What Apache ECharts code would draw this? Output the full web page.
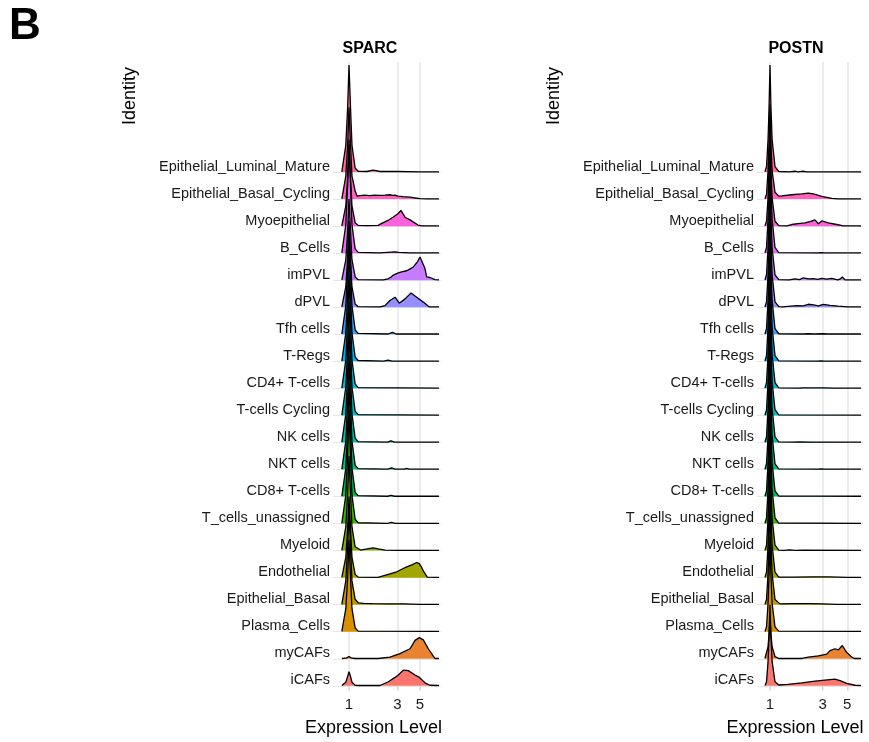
<!DOCTYPE html>
<html>
<head>
<meta charset="utf-8">
<script src="https://cdn.jsdelivr.net/npm/echarts@6/dist/echarts.min.js"></script>
<style>
  html, body { margin: 0; padding: 0; background: #fff; }
  #chart { width: 869px; height: 742px; }
</style>
</head>
<body>
<div id="chart"></div>
<script>
// rows, top to bottom
const identities = ['Epithelial_Luminal_Mature', 'Epithelial_Basal_Cycling', 'Myoepithelial', 'B_Cells',
  'imPVL', 'dPVL', 'Tfh cells', 'T-Regs', 'CD4+ T-cells', 'T-cells Cycling', 'NK cells', 'NKT cells',
  'CD8+ T-cells', 'T_cells_unassigned', 'Myeloid', 'Endothelial', 'Epithelial_Basal', 'Plasma_Cells',
  'myCAFs', 'iCAFs'];

const fillColors = ['#FF6C91', '#FF62BC', '#FA62DB', '#E76BF3', '#C77CFF', '#9590FF', '#35A2FF', '#00B0F6',
  '#00BAE0', '#00BFC4', '#00C1A3', '#00BF7D', '#00BB4E', '#39B600', '#7CAE00', '#A3A500', '#C09B00',
  '#D89000', '#EA8331', '#F8766D'];

const xTicks = [1, 3, 5];

// ridge heights ([expression, height in rows]) for SPARC
const sparcRidges = [
  [[0.85,0.01],[0.87,0.05],[0.93,0.99],[0.97,2.4],[1,3.96],[1.035,2.4],[1.07,0.99],[1.15,0.15],[1.23,0.03],[1.5,0.02],[1.72,0.07],[1.85,0.05],[2.02,0.02],[3,0.02],[5,0.01],[7.7,0.01]],
  [[0.85,0.01],[0.87,0.04],[0.93,0.85],[0.97,2.0],[1,3.4],[1.035,2.0],[1.07,0.85],[1.15,0.3],[1.2,0.11],[1.28,0.13],[1.44,0.15],[1.6,0.13],[1.8,0.15],[2,0.14],[2.26,0.15],[2.53,0.16],[2.7,0.14],[2.84,0.15],[3.03,0.11],[3.4,0.09],[4,0.07],[4.5,0.04],[5,0.02],[6,0.01],[7.7,0.01]],
  [[0.85,0.01],[0.87,0.04],[0.93,0.75],[0.97,1.8],[1,3.0],[1.035,1.8],[1.07,0.75],[1.15,0.12],[1.23,0.03],[1.5,0.02],[1.93,0.03],[2.1,0.1],[2.42,0.21],[2.71,0.33],[3.03,0.46],[3.25,0.58],[3.56,0.33],[3.99,0.23],[4.47,0.11],[4.78,0.04],[5.2,0.01],[7.7,0.01]],
  [[0.85,0.01],[0.87,0.05],[0.93,1.05],[0.97,2.5],[1,4.2],[1.035,2.5],[1.07,1.05],[1.15,0.16],[1.23,0.03],[2,0.01],[2.6,0.04],[2.84,0.05],[3.1,0.03],[4,0.01],[7.7,0.01]],
  [[0.85,0.01],[0.87,0.04],[0.93,0.75],[0.97,1.8],[1,3.0],[1.035,1.8],[1.07,0.75],[1.15,0.12],[1.23,0.02],[2.18,0.01],[2.42,0.05],[2.6,0.12],[2.73,0.19],[2.84,0.25],[3.06,0.27],[3.3,0.31],[3.7,0.35],[4.0,0.42],[4.3,0.49],[4.71,0.68],[5.0,0.86],[5.23,0.9],[5.6,0.43],[5.82,0.12],[6.27,0.1],[6.52,0.06],[7.03,0.02],[7.7,0.01]],
  [[0.85,0.01],[0.87,0.04],[0.93,0.75],[0.97,1.8],[1,3.0],[1.035,1.8],[1.07,0.75],[1.15,0.12],[1.23,0.02],[2.02,0.01],[2.26,0.06],[2.53,0.25],[2.84,0.37],[3.13,0.15],[3.56,0.31],[4.08,0.53],[4.64,0.37],[5.39,0.19],[6.18,0.01],[7.7,0.01]],
  [[0.85,0.01],[0.87,0.05],[0.93,1.05],[0.97,2.5],[1,4.2],[1.035,2.5],[1.07,1.05],[1.15,0.16],[1.23,0.03],[2.4,0.01],[2.69,0.07],[2.9,0.01],[7.7,0.01]],
  [[0.85,0.01],[0.87,0.05],[0.93,1.05],[0.97,2.5],[1,4.2],[1.035,2.5],[1.07,1.05],[1.15,0.16],[1.23,0.03],[2.2,0.01],[2.42,0.04],[2.65,0.01],[7.7,0.01]],
  [[0.85,0.01],[0.87,0.05],[0.93,1.05],[0.97,2.5],[1,4.2],[1.035,2.5],[1.07,1.05],[1.15,0.16],[1.23,0.03],[7.7,0.01]],
  [[0.85,0.01],[0.87,0.05],[0.93,1.05],[0.97,2.5],[1,4.2],[1.035,2.5],[1.07,1.05],[1.15,0.16],[1.23,0.03],[7.7,0.01]],
  [[0.85,0.01],[0.87,0.05],[0.93,1.05],[0.97,2.5],[1,4.2],[1.035,2.5],[1.07,1.05],[1.15,0.16],[1.23,0.03],[2.4,0.01],[2.59,0.06],[2.8,0.01],[7.7,0.01]],
  [[0.85,0.01],[0.87,0.05],[0.93,1.05],[0.97,2.5],[1,4.2],[1.035,2.5],[1.07,1.05],[1.15,0.16],[1.23,0.03],[2.4,0.01],[2.63,0.06],[2.85,0.01],[3.5,0.01],[3.7,0.04],[3.9,0.01],[7.7,0.01]],
  [[0.85,0.01],[0.87,0.05],[0.93,1.05],[0.97,2.5],[1,4.2],[1.035,2.5],[1.07,1.05],[1.15,0.16],[1.23,0.03],[2.4,0.01],[2.59,0.04],[2.8,0.01],[7.7,0.01]],
  [[0.85,0.01],[0.87,0.05],[0.93,1.05],[0.97,2.5],[1,4.2],[1.035,2.5],[1.07,1.05],[1.15,0.16],[1.23,0.03],[2.4,0.01],[2.63,0.04],[2.85,0.01],[7.7,0.01]],
  [[0.85,0.01],[0.87,0.04],[0.93,0.88],[0.97,2.1],[1,3.5],[1.035,2.1],[1.07,0.88],[1.15,0.14],[1.3,0.02],[1.5,0.06],[1.72,0.1],[1.95,0.06],[2.26,0.02],[3,0.01],[7.7,0.01]],
  [[0.85,0.01],[0.87,0.04],[0.93,0.75],[0.97,1.8],[1,3.0],[1.035,1.8],[1.07,0.75],[1.15,0.12],[1.23,0.02],[1.93,0.01],[2.44,0.12],[2.9,0.2],[3.3,0.31],[3.7,0.4],[4.15,0.47],[4.64,0.56],[4.93,0.52],[5.15,0.4],[5.39,0.25],[5.9,0.02],[7.7,0.01]],
  [[0.85,0.01],[0.87,0.04],[0.93,0.88],[0.97,2.1],[1,3.5],[1.035,2.1],[1.07,0.88],[1.15,0.2],[1.23,0.07],[1.28,0.08],[1.4,0.05],[1.7,0.04],[2.5,0.03],[3.5,0.03],[5,0.01],[7.7,0.01]],
  [[0.85,0.01],[0.87,0.04],[0.93,0.85],[0.97,2.0],[1,3.4],[1.035,2.0],[1.07,0.85],[1.15,0.14],[1.23,0.02],[7.7,0.01]],
  [[0.85,0.01],[0.93,0.02],[1,0.08],[1.07,0.02],[1.15,0.01],[1.94,0.01],[2.53,0.06],[3.18,0.19],[3.99,0.37],[4.47,0.68],[4.93,0.78],[5.39,0.7],[6.04,0.37],[6.76,0.1],[7.03,0.01],[7.7,0.01]],
  [[0.85,0.01],[0.87,0.02],[0.93,0.13],[0.97,0.35],[1,0.52],[1.035,0.35],[1.07,0.13],[1.15,0.02],[1.23,0.01],[2.02,0.01],[2.44,0.15],[2.84,0.31],[3.06,0.4],[3.43,0.58],[3.84,0.56],[4.47,0.4],[4.93,0.31],[5.6,0.11],[6.27,0.02],[7.7,0.01]]
];

// ridge heights for POSTN
const postnRidges = [
  [[0.9,0.01],[0.93,0.2],[0.96,1.2],[0.98,2.4],[1,3.96],[1.02,2.4],[1.045,1.2],[1.11,0.2],[1.2,0.02],[1.5,0.01],[1.68,0.03],[1.8,0.01],[1.99,0.03],[2.15,0.01],[6.66,0.01]],
  [[0.9,0.01],[0.93,0.18],[0.96,1.05],[0.98,2.1],[1,3.5],[1.02,2.1],[1.045,1.05],[1.11,0.25],[1.2,0.11],[1.28,0.12],[1.57,0.16],[1.94,0.19],[2.22,0.22],[2.47,0.19],[2.94,0.1],[3.62,0.03],[4.12,0.01],[6.66,0.01]],
  [[0.9,0.01],[0.93,0.18],[0.96,1.05],[0.98,2.1],[1,3.5],[1.02,2.1],[1.045,1.05],[1.11,0.18],[1.2,0.02],[1.42,0.01],[1.57,0.06],[1.8,0.09],[2.07,0.12],[2.3,0.17],[2.55,0.23],[2.74,0.09],[2.94,0.19],[3.37,0.12],[4.01,0.06],[4.61,0.01],[6.66,0.01]],
  [[0.9,0.01],[0.93,0.21],[0.96,1.26],[0.98,2.5],[1,4.2],[1.02,2.5],[1.045,1.26],[1.11,0.21],[1.2,0.02],[2.7,0.01],[2.9,0.02],[3.1,0.01],[6.66,0.01]],
  [[0.9,0.01],[0.93,0.2],[0.96,1.2],[0.98,2.4],[1,4.0],[1.02,2.4],[1.045,1.2],[1.11,0.2],[1.2,0.02],[1.5,0.01],[1.68,0.05],[1.85,0.02],[2.0,0.09],[2.22,0.05],[2.47,0.06],[2.7,0.03],[2.94,0.07],[3.26,0.04],[3.62,0.07],[4.1,0.01],[4.3,0.04],[4.51,0.12],[4.77,0.01],[6.66,0.01]],
  [[0.9,0.01],[0.93,0.2],[0.96,1.2],[0.98,2.4],[1,4.0],[1.02,2.4],[1.045,1.2],[1.11,0.2],[1.2,0.02],[1.3,0.01],[1.45,0.03],[1.74,0.06],[2.0,0.05],[2.22,0.11],[2.47,0.09],[2.74,0.05],[3.04,0.11],[3.49,0.07],[4.15,0.04],[5.11,0.01],[6.66,0.01]],
  [[0.9,0.01],[0.93,0.21],[0.96,1.26],[0.98,2.5],[1,4.2],[1.02,2.5],[1.045,1.26],[1.11,0.21],[1.2,0.02],[2.0,0.01],[2.2,0.02],[2.5,0.01],[3.0,0.02],[3.3,0.01],[6.66,0.01]],
  [[0.9,0.01],[0.93,0.21],[0.96,1.26],[0.98,2.5],[1,4.2],[1.02,2.5],[1.045,1.26],[1.11,0.21],[1.2,0.02],[2.7,0.01],[2.9,0.02],[3.1,0.01],[6.66,0.01]],
  [[0.9,0.01],[0.93,0.21],[0.96,1.26],[0.98,2.5],[1,4.2],[1.02,2.5],[1.045,1.26],[1.11,0.21],[1.2,0.02],[1.8,0.01],[2.0,0.02],[2.6,0.015],[3.0,0.02],[3.8,0.01],[6.66,0.01]],
  [[0.9,0.01],[0.93,0.21],[0.96,1.26],[0.98,2.5],[1,4.2],[1.02,2.5],[1.045,1.26],[1.11,0.21],[1.2,0.02],[6.66,0.01]],
  [[0.9,0.01],[0.93,0.21],[0.96,1.26],[0.98,2.5],[1,4.2],[1.02,2.5],[1.045,1.26],[1.11,0.21],[1.2,0.02],[1.6,0.01],[1.8,0.02],[2.4,0.015],[3,0.015],[4,0.01],[6.66,0.01]],
  [[0.9,0.01],[0.93,0.21],[0.96,1.26],[0.98,2.5],[1,4.2],[1.02,2.5],[1.045,1.26],[1.11,0.21],[1.2,0.02],[2.7,0.01],[2.9,0.02],[3.1,0.01],[6.66,0.01]],
  [[0.9,0.01],[0.93,0.21],[0.96,1.26],[0.98,2.5],[1,4.2],[1.02,2.5],[1.045,1.26],[1.11,0.21],[1.2,0.02],[2.5,0.015],[6.66,0.01]],
  [[0.9,0.01],[0.93,0.21],[0.96,1.26],[0.98,2.5],[1,4.2],[1.02,2.5],[1.045,1.26],[1.11,0.21],[1.2,0.02],[6.66,0.01]],
  [[0.9,0.01],[0.93,0.2],[0.96,1.2],[0.98,2.4],[1,4.0],[1.02,2.4],[1.045,1.2],[1.11,0.2],[1.2,0.02],[1.35,0.01],[1.5,0.03],[1.7,0.01],[2,0.015],[6.66,0.01]],
  [[0.9,0.01],[0.93,0.2],[0.96,1.2],[0.98,2.4],[1,4.0],[1.02,2.4],[1.045,1.2],[1.11,0.2],[1.2,0.02],[1.6,0.02],[2.5,0.03],[3.5,0.025],[5,0.01],[6.66,0.01]],
  [[0.9,0.01],[0.93,0.19],[0.96,1.14],[0.98,2.3],[1,3.8],[1.02,2.3],[1.045,1.14],[1.11,0.19],[1.23,0.03],[1.6,0.04],[2.2,0.04],[3,0.03],[4,0.01],[6.66,0.01]],
  [[0.9,0.01],[0.93,0.18],[0.96,1.05],[0.98,2.1],[1,3.5],[1.02,2.1],[1.045,1.05],[1.11,0.18],[1.2,0.02],[6.66,0.01]],
  [[0.9,0.01],[0.93,0.08],[0.96,0.45],[0.98,0.9],[1,1.5],[1.02,0.9],[1.045,0.45],[1.11,0.08],[1.2,0.01],[1.94,0.01],[2.22,0.06],[2.74,0.11],[3.26,0.17],[3.49,0.3],[3.87,0.37],[4.15,0.33],[4.51,0.49],[4.95,0.23],[5.49,0.06],[5.8,0.01],[6.66,0.01]],
  [[0.9,0.01],[0.93,0.15],[0.96,0.9],[0.98,1.8],[1,3.0],[1.02,1.8],[1.045,0.9],[1.11,0.15],[1.2,0.03],[1.45,0.05],[1.94,0.11],[2.55,0.17],[3.14,0.21],[3.87,0.25],[4.3,0.19],[4.95,0.09],[5.88,0.02],[6.66,0.01]]
];

const FONT = '"Liberation Sans", Arial, Helvetica, sans-serif';
const topRow = identities.length - 1;
const rowValues = identities.map((d, i) => i);

var chart = echarts.init(document.getElementById('chart'));

function ridgeSeries(ridges, panel) {
  return ridges.map(function (pts, i) {
    var base = topRow - i;
    return {
      type: 'line',
      name: identities[i],
      xAxisIndex: panel,
      yAxisIndex: panel,
      symbol: 'none',
      silent: true,
      data: pts.map(p => [p[0], base + p[1]]),
      lineStyle: { color: '#000', width: 1.3 },
      areaStyle: { color: fillColors[i], opacity: 1, origin: base }
    };
  });
}

function xAxisFor(panel, min, max) {
  return {
    type: 'log', gridIndex: panel, min: min, max: max,
    axisLine: { show: false },
    axisTick: { show: true, customValues: xTicks, length: 4, lineStyle: { color: '#d6d6d6' } },
    axisLabel: { customValues: xTicks, fontSize: 15, color: '#1a1a1a', margin: 6, fontFamily: FONT },
    splitLine: { show: true, lineStyle: { color: '#e6e6e6', width: 1.5 } }
  };
}

function yAxisFor(panel) {
  return {
    type: 'value', gridIndex: panel, min: -0.2, max: 23.07,
    axisLine: { show: false },
    axisTick: { show: false, customValues: rowValues },
    axisLabel: {
      customValues: rowValues, fontSize: 14.5, color: '#1a1a1a', margin: 3, fontFamily: FONT,
      verticalAlign: 'bottom', lineHeight: 11,
      formatter: v => identities[topRow - Math.round(v)]
    },
    splitLine: { show: true, lineStyle: { color: '#e6e6e6', width: 1.2 } }
  };
}

function label(text, x, y, size, bold, rotate) {
  return {
    type: 'text', x: x, y: y, rotation: rotate ? Math.PI / 2 : 0, silent: true,
    style: {
      text: text, fill: '#000', fontSize: size, fontWeight: bold ? 'bold' : 'normal', fontFamily: FONT,
      align: 'center', verticalAlign: 'middle', textAlign: 'center', textVerticalAlign: 'middle'
    }
  };
}

chart.setOption({
  animation: false,
  backgroundColor: '#fff',
  grid: [
    { left: 333, top: 62, width: 108, height: 629.2 },
    { left: 757, top: 62, width: 106, height: 629.2 }
  ],
  xAxis: [xAxisFor(0, 0.6958, 8.054), xAxisFor(1, 0.7627, 6.94)],
  yAxis: [yAxisFor(0), yAxisFor(1)],
  graphic: [
    label('B', 25, 27, 44, true, false),
    label('SPARC', 370, 49, 16, true, false),
    label('POSTN', 796, 49, 16, true, false),
    label('Identity', 130, 96, 18, false, true),
    label('Identity', 554, 96, 18, false, true),
    label('Expression Level', 373.5, 728, 18, false, false),
    label('Expression Level', 795, 728, 18, false, false)
  ],
  series: ridgeSeries(sparcRidges, 0).concat(ridgeSeries(postnRidges, 1))
});
</script>
</body>
</html>
